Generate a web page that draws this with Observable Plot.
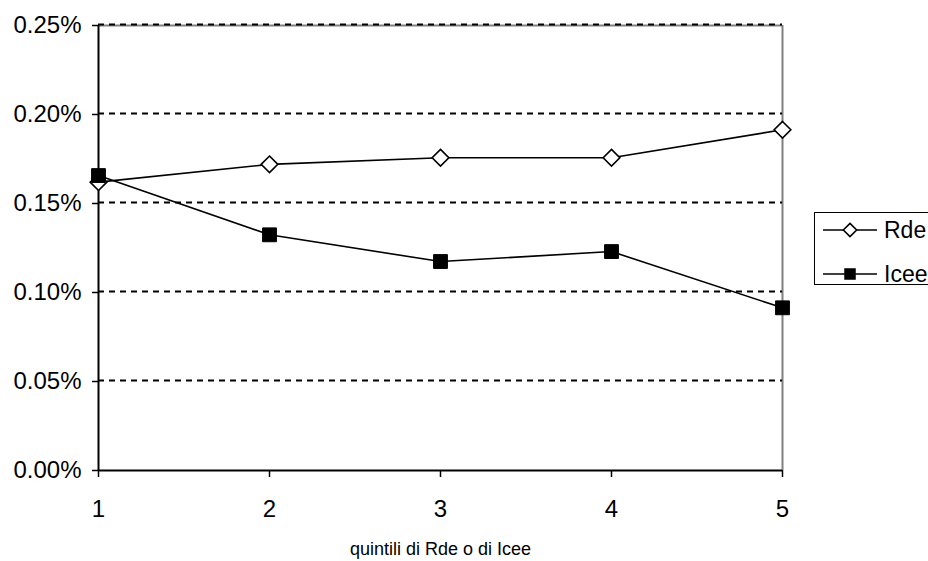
<!DOCTYPE html>
<html>
<head>
<meta charset="utf-8">
<script src="https://cdn.jsdelivr.net/npm/d3@7"></script>
<script src="https://cdn.jsdelivr.net/npm/@observablehq/plot@0.6"></script>
<style>
  body { margin: 0; background: #fff; }
  #wrap { position: relative; width: 928px; height: 561px; overflow: hidden; font-family: "Liberation Sans", Arial, sans-serif; }
  #legend { position: absolute; left: 814px; top: 212px; width: 130px; height: 73px; border: 1.5px solid #000; box-sizing: border-box; background: #fff; }
  #legend svg { position: absolute; left: 0; top: 0; }
</style>
</head>
<body>
<div id="wrap"></div>
<script>
const quintili = [1, 2, 3, 4, 5];
const rde = [0.00162, 0.00172, 0.001757, 0.001757, 0.001914];
const icee = [0.001657, 0.001324, 0.001174, 0.00123, 0.000914];
const yTicks = [0, 0.0005, 0.001, 0.0015, 0.002, 0.0025];
const seriesNames = ["Rde", "Icee"];
const xLabel = "quintili di Rde o di Icee";

const data = [
  ...quintili.map((q, i) => ({q, v: rde[i], s: "Rde"})),
  ...quintili.map((q, i) => ({q, v: icee[i], s: "Icee"}))
];
const fmt = d3.format(".2%");
const fs = 24;
const fsLabel = 18;
const fsLegend = 23;

const chart = Plot.plot({
  width: 928,
  height: 561,
  marginLeft: 98,
  marginRight: 146,
  marginTop: 25,
  marginBottom: 91,
  style: {fontFamily: "'Liberation Sans', Arial, sans-serif", fontSize: fs + "px", color: "#000", background: "#fff", overflow: "visible"},
  x: {domain: [1, 5], ticks: quintili},
  y: {domain: [0, 0.0025], ticks: yTicks},
  marks: [
    Plot.ruleY([0.0025], {stroke: "#808080", strokeWidth: 2}),
    Plot.ruleX([5], {stroke: "#808080", strokeWidth: 2}),
    Plot.ruleY(yTicks.slice(1), {stroke: "#000", strokeWidth: 2, strokeDasharray: "6,5", dy: -1}),
    Plot.ruleX([1], {stroke: "#000", strokeWidth: 2}),
    Plot.ruleY([0], {stroke: "#000", strokeWidth: 2}),
    Plot.axisY({ticks: yTicks, tickFormat: fmt, tickSize: 6, tickPadding: 11, fontSize: fs, label: null, strokeWidth: 1.5}),
    Plot.axisX({ticks: quintili, tickFormat: d3.format("d"), tickSize: 7, tickPadding: 22, fontSize: fs, label: null, strokeWidth: 1.5}),
    Plot.axisX({ticks: [], tickSize: 0, label: xLabel, labelAnchor: "center", labelArrow: "none", labelOffset: 84, fontSize: fsLabel}),
    Plot.line(data, {x: "q", y: "v", z: "s", stroke: "#000", strokeWidth: 1.6}),
    Plot.dot(data.filter(d => d.s === "Rde"), {x: "q", y: "v", symbol: "diamond2", r: 7.5, fill: "#fff", stroke: "#000", strokeWidth: 1.6}),
    Plot.dot(data.filter(d => d.s === "Icee"), {x: "q", y: "v", symbol: "square", r: 7.8, fill: "#000", stroke: "#000", strokeWidth: 1})
  ]
});
const wrap = document.getElementById("wrap");
wrap.appendChild(chart);

// legend
const leg = document.createElement("div");
leg.id = "legend";
const ls = d3.create("svg").attr("width", 130).attr("height", 73);
seriesNames.forEach((name, i) => {
  const y = i === 0 ? 17 : 61;
  ls.append("line").attr("x1", 8).attr("x2", 62).attr("y1", y).attr("y2", y).attr("stroke", "#000").attr("stroke-width", 1.6);
  if (name === "Rde") {
    ls.append("path").attr("d", d3.symbol(d3.symbolDiamond2, Math.PI * 6 * 6)()).attr("transform", `translate(35,${y})`).attr("fill", "#fff").attr("stroke", "#000").attr("stroke-width", 1.6);
  } else {
    ls.append("path").attr("d", d3.symbol(d3.symbolSquare, Math.PI * 6.5 * 6.5)()).attr("transform", `translate(35,${y})`).attr("fill", "#000");
  }
  ls.append("text").attr("x", 69).attr("y", y).attr("dy", "0.35em").attr("font-size", fsLegend).attr("font-family", "'Liberation Sans', Arial, sans-serif").text(name);
});
leg.appendChild(ls.node());
wrap.appendChild(leg);
</script>
</body>
</html>
